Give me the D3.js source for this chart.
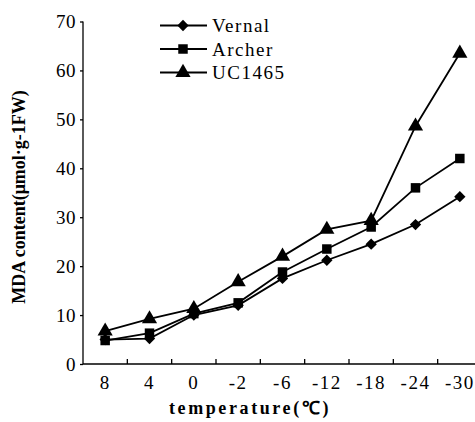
<!DOCTYPE html>
<html><head><meta charset="utf-8">
<script src="https://cdn.jsdelivr.net/npm/d3@7"></script>
<style>body{margin:0;background:#fff}svg{display:block}text{font-family:"Liberation Serif","Times New Roman",serif;fill:#000}</style>
</head><body><svg id="c" width="475" height="422"></svg>
<script>
const categories = ["8","4","0","-2","-6","-12","-18","-24","-30"];
const vernal = [5.0, 5.2, 10.0, 12.0, 17.5, 21.2, 24.5, 28.5, 34.2];
const archer = [4.8, 6.3, 10.3, 12.5, 18.8, 23.5, 28.0, 36.0, 42.0];
const uc1465 = [6.7, 9.2, 11.3, 16.8, 22.0, 27.5, 29.3, 48.6, 63.5];
const seriesNames = ["Vernal","Archer","UC1465"];
const yTicks = [0,10,20,30,40,50,60,70];

const series = [
  {name: seriesNames[0], values: vernal, sym: d3.symbolDiamond2, size: 82},
  {name: seriesNames[1], values: archer, sym: d3.symbolSquare, size: 90},
  {name: seriesNames[2], values: uc1465, sym: d3.symbolTriangle, size: 100}
];

const svg = d3.select("#c");
const L = 83, R = 482, T = 21.5, B = 364;
const x = d3.scaleBand().domain(categories).range([L, R]);
const y = d3.scaleLinear().domain([0, 70]).range([B, T]);

// y axis
const ya = svg.append("g").attr("transform", `translate(${L},0)`)
  .call(d3.axisLeft(y).tickValues(yTicks).tickSize(3).tickPadding(4));
ya.select(".domain").attr("d", `M0,${T}V${B}`).attr("stroke-width", 1.3);
ya.selectAll("line").attr("stroke-width", 1.3);
ya.selectAll("text").attr("font-size", 19).attr("dy", "0.33em").attr("letter-spacing", 0.5);

// x axis
const xa = svg.append("g").attr("transform", `translate(0,${B})`)
  .call(d3.axisBottom(x).tickSize(0).tickPadding(11));
xa.select(".domain").attr("d", `M${L},0H475`).attr("stroke-width", 1.3);
xa.selectAll("text").attr("font-size", 19).attr("letter-spacing", 1.5).attr("dy", "0.75em");
const bounds = categories.slice(1).map(c => x(c));
xa.selectAll(".btick").data(bounds).enter().append("line")
  .attr("x1", d => d).attr("x2", d => d).attr("y1", 0).attr("y2", -5)
  .attr("stroke", "#000").attr("stroke-width", 1.3);

// lines & markers
const line = d3.line().x((d, i) => x(categories[i]) + x.bandwidth() / 2).y(d => y(d));
series.forEach(s => {
  svg.append("path").attr("d", line(s.values)).attr("fill", "none").attr("stroke", "#000").attr("stroke-width", 1.8);
  svg.selectAll(null).data(s.values).enter().append("path")
    .attr("d", d3.symbol().type(s.sym).size(s.size))
    .attr("transform", (d, i) => `translate(${x(categories[i]) + x.bandwidth() / 2},${y(d)})`)
    .attr("fill", "#000");
});

// legend
const lg = svg.append("g");
series.forEach((s, i) => {
  const yy = 25.5 + i * 23.5;
  lg.append("line").attr("x1", 160).attr("x2", 207).attr("y1", yy).attr("y2", yy).attr("stroke", "#000").attr("stroke-width", 1.8);
  lg.append("path").attr("d", d3.symbol().type(s.sym).size(s.size)).attr("transform", `translate(183,${yy})`).attr("fill", "#000");
  lg.append("text").attr("x", 212).attr("y", yy).attr("dy", "0.35em").attr("font-size", 19).attr("letter-spacing", 1.5).text(s.name);
});

// axis titles
svg.append("text").attr("x", 250).attr("y", 414).attr("text-anchor", "middle").attr("font-size", 18).attr("font-weight", "bold").attr("letter-spacing", 2.6).text("temperature(℃)");
svg.append("text").attr("transform", "translate(25,197) rotate(-90)").attr("text-anchor", "middle").attr("font-size", 18).attr("font-weight", "bold").text("MDA content(μmol·g-1FW)");
</script></body></html>
